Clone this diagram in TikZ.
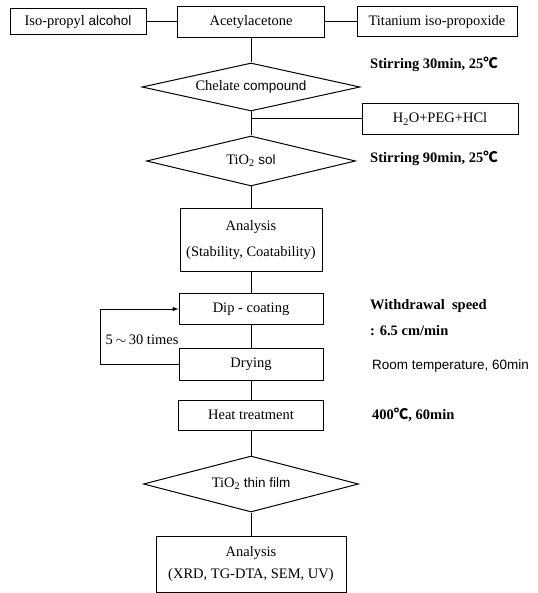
\documentclass[tikz,border=0pt]{standalone}
\usepackage{fontspec}
\setmainfont{Liberation Serif}
\newfontfamily\gulim[Scale=0.93]{Liberation Sans}
\newfontfamily\cjkdeg{Noto Sans CJK KR}
\usetikzlibrary{shapes.geometric}

\newcommand\flowfont{\fontsize{14.5}{17}\selectfont}
\newcommand\degc{{\cjkdeg ℃}}

\tikzset{
    flowbox/.style={draw, line width=1pt, inner sep=0pt, align=center, font=\flowfont},
    flowdiam/.style={draw, line width=1pt, diamond, aspect=4, inner sep=0pt, font=\flowfont},
    condtext/.style={anchor=west, inner sep=0pt, align=left, font=\flowfont\bfseries},
    flowline/.style={line width=1pt}
}

\begin{document}
\begin{tikzpicture}[x=1pt, y=-1pt]
    \useasboundingbox (0,0) rectangle (537,593);

    % starting materials
    \node[flowbox, minimum width=136pt, minimum height=26pt] (iso) at (78,22) {Iso-propyl {\gulim alcohol}};
    \node[flowbox, minimum width=147pt, minimum height=31pt] (acac) at (251,22) {Acetylacetone};
    \node[flowbox, minimum width=160pt, minimum height=30pt] (ttip) at (437,22) {Titanium iso-propoxide};
    \node[condtext] (stir1) at (370,64) {Stirring 30min, 25\degc};

    % sol preparation
    \node[flowdiam, minimum width=218pt, minimum height=48pt] (chel) at (251,87) {Chelate {\gulim compound}};
    \node[flowbox, minimum width=156pt, minimum height=31pt] (mix) at (440,119) {H\textsubscript{2}O+PEG+HCl};
    \node[flowdiam, minimum width=209pt, minimum height=50pt] (sol) at (251,161) {TiO\textsubscript{2} {\gulim sol}};
    \node[condtext] (stir2) at (370,158) {Stirring 90min, 25\degc};

    \node[flowbox, minimum width=142pt, minimum height=63pt] (ana1) at (251,240) {Analysis\\[9pt](Stability, Coatability)};

    % coating
    \node[flowbox, minimum width=144pt, minimum height=31pt] (dip) at (251,309) {Dip - coating};
    \node[condtext] (speed) at (370,318) {Withdrawal\ \ speed\\[9pt]: 6.5 cm/min};
    \node[flowbox, minimum width=144pt, minimum height=32pt] (dry) at (251,364) {Drying};
    \node[condtext, font=\flowfont\gulim] (room) at (372,366) {Room temperature, 60min};
    \node[font=\flowfont] (times) at (142,340) {5\,$\sim$\,30 times};

    \node[flowbox, minimum width=145pt, minimum height=30pt] (heat) at (251,415) {Heat treatment};
    \node[condtext] (calc) at (372,415) {400\degc, 60min};

    % film
    \node[flowdiam, minimum width=215pt, minimum height=56pt] (film) at (251,484) {TiO\textsubscript{2} {\gulim thin film}};
    \node[flowbox, minimum width=190pt, minimum height=56pt] (ana2) at (251,564) {Analysis\\[5pt](XRD, TG-DTA, SEM, UV)};

    \draw[flowline] (iso) -- (acac);
    \draw[flowline] (acac) -- (ttip);
    \draw[flowline] (acac) -- (chel);
    \draw[flowline] (chel) -- (sol);
    \draw[flowline] (mix.west) -- (mix.west -| chel.south);
    \draw[flowline] (sol) -- (ana1);
    \draw[flowline] (ana1) -- (dip);
    \draw[flowline] (dip) -- (dry);
    \draw[flowline, -latex] (dry.west) -- ++(-78,0) |- (dip.west);
    \draw[flowline] (dry) -- (heat);
    \draw[flowline] (heat) -- (film);
    \draw[flowline] (film) -- (ana2);

\end{tikzpicture}
\end{document}
